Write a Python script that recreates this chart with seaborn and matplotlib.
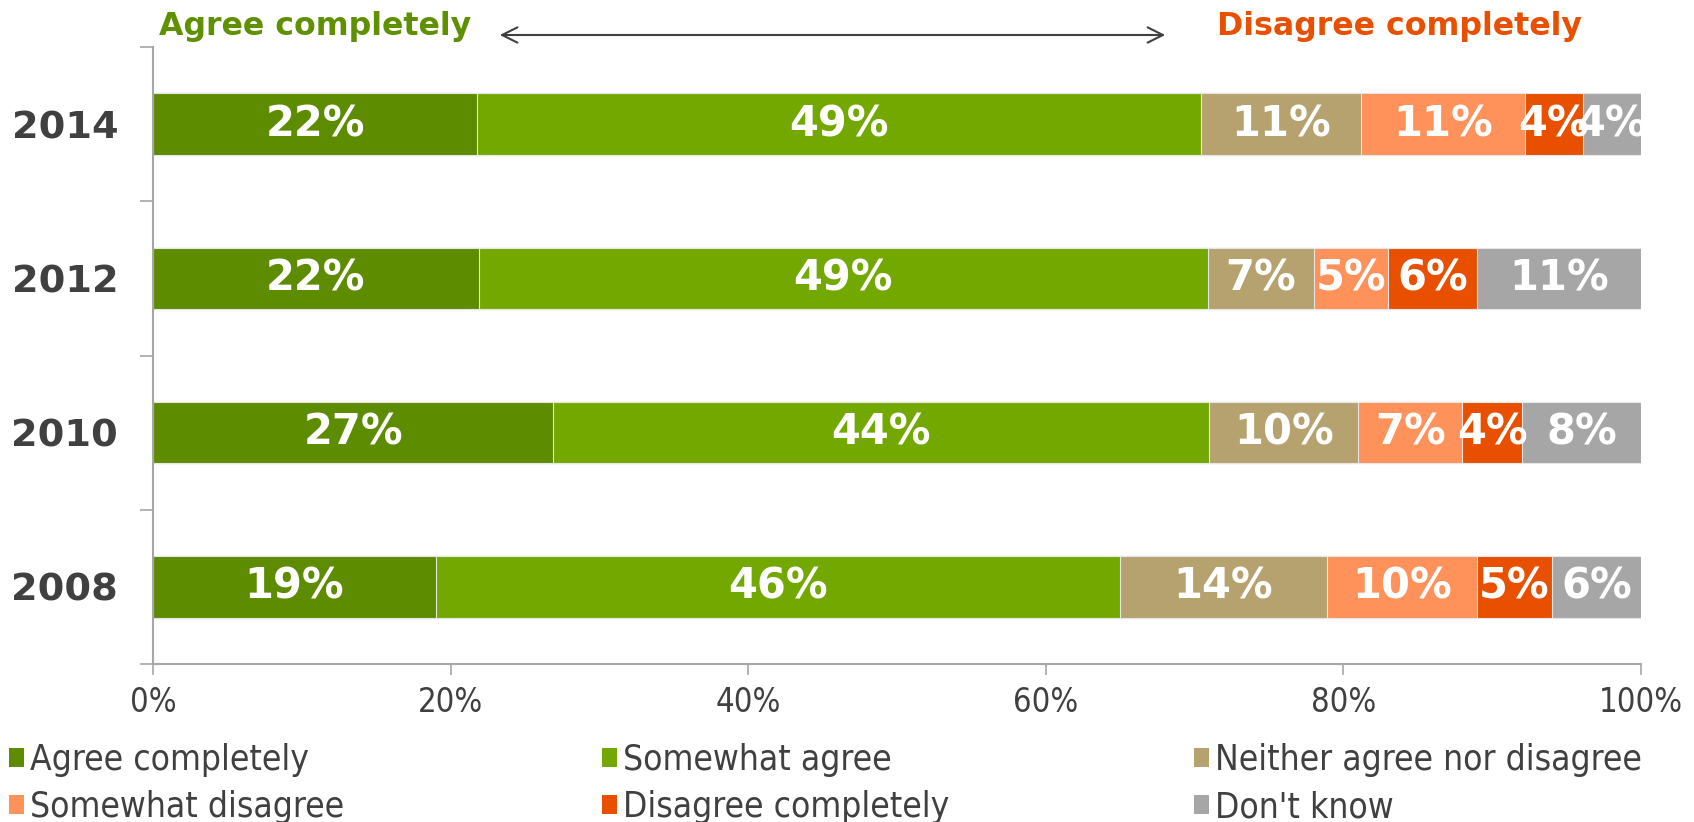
import os
import matplotlib
matplotlib.use("Agg")
import matplotlib.pyplot as plt
from matplotlib import font_manager as fm
from matplotlib.patches import Rectangle, FancyArrowPatch
from matplotlib.ticker import FuncFormatter
import pandas as pd
import seaborn as sns

# Survey answers by year (percent of respondents)
years = ["2014", "2012", "2010", "2008"]
categories = ["Agree completely", "Somewhat agree", "Neither agree nor disagree",
              "Somewhat disagree", "Disagree completely", "Don't know"]
agree_completely = [21.8, 21.9, 26.9, 19.0]
somewhat_agree = [48.6, 49.0, 44.1, 46.0]
neither = [10.8, 7.1, 10.0, 13.9]
somewhat_disagree = [11.0, 5.0, 7.0, 10.1]
disagree_completely = [3.9, 6.0, 4.0, 5.0]
dont_know = [3.9, 11.0, 8.0, 6.0]
x_ticks = [0, 20, 40, 60, 80, 100]

colors = ["#5E8C00", "#72A800", "#B5A26E", "#FF915A", "#E85000", "#A6A6A6"]
text_dark = "#404040"

sns.set_theme(style="white")
plt.rcParams["font.family"] = ["DejaVu Sans"]


def find_font(names):
    for f in fm.fontManager.ttflist:
        if os.path.basename(f.fname) in names:
            return f.fname
    for path in fm.findSystemFonts():
        if os.path.basename(path) in names:
            return path
    return None


cond_path = find_font({"DejaVuSansCondensed.ttf"})
scale = 1.0
if cond_path is None:
    cond_path = find_font({"LiberationSansNarrow-Regular.ttf"})
    scale = 1.12
if cond_path is not None:
    tick_fp = fm.FontProperties(fname=cond_path, size=23.5 * scale)
    legend_fp = fm.FontProperties(fname=cond_path, size=25.4 * scale)
else:
    tick_fp = fm.FontProperties(family="DejaVu Sans", size=20)
    legend_fp = fm.FontProperties(family="DejaVu Sans", size=22)

wide = pd.DataFrame({
    "year": years,
    categories[0]: agree_completely,
    categories[1]: somewhat_agree,
    categories[2]: neither,
    categories[3]: somewhat_disagree,
    categories[4]: disagree_completely,
    categories[5]: dont_know,
})
cum = wide[categories].cumsum(axis=1)
cum["year"] = years

fig = plt.figure(figsize=(16.94, 8.22), dpi=100)
ax = fig.add_axes([0.0903, 0.1922, 0.8784, 0.7506])

# Stack by overlaying cumulative totals, longest first
for i in range(len(categories) - 1, -1, -1):
    sns.barplot(data=cum, x=categories[i], y="year", order=years, orient="h",
                color=colors[i], saturation=1, width=0.4,
                edgecolor="#E6E6E6", linewidth=0.8, ax=ax)

# Segment value labels
for r, yr in enumerate(years):
    start = 0.0
    for cat in categories:
        v = wide.loc[r, cat]
        ax.text(start + v / 2, r, f"{v:.0f}%", ha="center", va="center",
                color="white", fontsize=30, fontweight="bold")
        start += v

ax.set_xlim(0, 100)
ax.set_ylim(3.5, -0.5)
ax.set_xlabel("")
ax.set_ylabel("")
ax.set_xticks(x_ticks)
ax.xaxis.set_major_formatter(FuncFormatter(lambda v, p: f"{v:.0f}%"))
for lbl in ax.get_xticklabels():
    lbl.set_fontproperties(tick_fp)
    lbl.set_color(text_dark)

ax.set_yticks([-0.5, 0.5, 1.5, 2.5, 3.5])
ax.set_yticklabels([])
ax.set_yticks(range(len(years)), minor=True)
ax.set_yticklabels(years, minor=True, fontsize=27.5, fontweight="bold", color=text_dark)

axis_grey = "#A6A6A6"
ax.tick_params(axis="y", which="major", left=True, length=9.5, width=1.2, color=axis_grey)
ax.tick_params(axis="y", which="minor", left=True, length=0, pad=25)
ax.tick_params(axis="x", which="major", bottom=True, length=8, width=1.2, color=axis_grey, pad=8)

for side in ("top", "right"):
    ax.spines[side].set_visible(False)
for side in ("left", "bottom"):
    ax.spines[side].set_color(axis_grey)
    ax.spines[side].set_linewidth(1.5)
ax.grid(False)

# Header with direction arrow
fig.text(159 / 1694, 1 - 27 / 822, "Agree completely", color="#5E9000",
         fontsize=22.8, fontweight="bold", ha="left", va="center")
fig.text(1217 / 1694, 1 - 27 / 822, "Disagree completely", color="#E85000",
         fontsize=22.8, fontweight="bold", ha="left", va="center")
fig.add_artist(FancyArrowPatch(
    (497 / 1694, 1 - 35 / 822), (1168 / 1694, 1 - 35 / 822),
    transform=fig.transFigure, arrowstyle="<->,head_length=11,head_width=5.5",
    color="#404040", lw=1.5))

# Legend in three columns
handles = [Rectangle((0, 0), 1, 1, facecolor=c, edgecolor="none") for c in colors]
col_x = [8.5 / 1694, 601.5 / 1694, 1193.5 / 1694]
for k in range(3):
    leg = fig.legend(handles=[handles[k], handles[k + 3]],
                     labels=[categories[k], categories[k + 3]],
                     loc="upper left", bbox_to_anchor=(col_x[k], 1 - 743 / 822),
                     frameon=False, prop=legend_fp, handlelength=0.45,
                     handleheight=0.45, handletextpad=0.15, labelspacing=0.38,
                     borderaxespad=0, borderpad=0)
    for t in leg.get_texts():
        t.set_color(text_dark)

fig.savefig("out.png", dpi=100)
